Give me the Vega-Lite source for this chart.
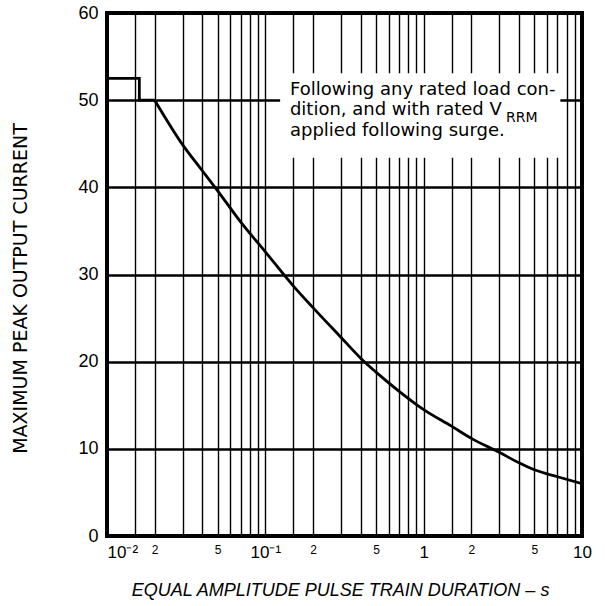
{
  "$schema": "https://vega.github.io/schema/vega-lite/v6.json",
  "width": 475,
  "height": 523,
  "autosize": "none",
  "padding": {"left": 107, "top": 13, "right": 23, "bottom": 70},
  "background": "white",
  "config": {
    "view": {"stroke": "black", "strokeWidth": 4},
    "font": "Liberation Sans"
  },
  "datasets": {
    "curve": [
      {"k": 1, "t": 0.01, "i": 52.5},
      {"k": 2, "t": 0.016, "i": 52.5},
      {"k": 3, "t": 0.016, "i": 50},
      {"k": 4, "t": 0.02, "i": 50},
      {"k": 5, "t": 0.03, "i": 44.9},
      {"k": 6, "t": 0.04, "i": 41.9},
      {"k": 7, "t": 0.05, "i": 39.6},
      {"k": 8, "t": 0.07, "i": 36.0},
      {"k": 9, "t": 0.1, "i": 32.6},
      {"k": 10, "t": 0.15, "i": 28.7},
      {"k": 11, "t": 0.2, "i": 26.2},
      {"k": 12, "t": 0.3, "i": 22.8},
      {"k": 13, "t": 0.4, "i": 20.4},
      {"k": 14, "t": 0.5, "i": 18.8},
      {"k": 15, "t": 0.7, "i": 16.6},
      {"k": 16, "t": 1, "i": 14.5},
      {"k": 17, "t": 1.5, "i": 12.6},
      {"k": 18, "t": 2, "i": 11.2},
      {"k": 19, "t": 3, "i": 9.6},
      {"k": 20, "t": 4, "i": 8.4},
      {"k": 21, "t": 5, "i": 7.6},
      {"k": 22, "t": 7, "i": 6.8},
      {"k": 23, "t": 10, "i": 6.0}
    ],
    "one": [{"a": 1}]
  },
  "layer": [
    {
      "data": {"name": "curve"},
      "transform": [{"filter": "datum.k <= 4"}],
      "mark": {"type": "line", "color": "black", "strokeWidth": 2.8, "clip": true},
      "encoding": {
        "x": {
          "field": "t",
          "type": "quantitative",
          "scale": {"type": "log", "domain": [0.01, 10]},
          "axis": {
            "values": [0.01, 0.015, 0.02, 0.03, 0.04, 0.05, 0.06, 0.07, 0.08, 0.09, 0.1, 0.15, 0.2, 0.3, 0.4, 0.5, 0.6, 0.7, 0.8, 0.9, 1, 1.5, 2, 3, 4, 5, 6, 7, 8, 9, 10],
            "labelExpr": "datum.value==0.01?'10⁻²':datum.value==0.1?'10⁻¹':datum.value==1?'1':datum.value==10?'10':(datum.value==0.02||datum.value==0.2||datum.value==2)?'2':(datum.value==0.05||datum.value==0.5||datum.value==5)?'5':''",
            "grid": true,
            "gridColor": "black",
            "gridWidth": 1.4,
            "gridOpacity": 1,
            "domain": false,
            "ticks": false,
            "labelPadding": 8,
            "labelFontSize": {"condition": {"test": "datum.value==0.02||datum.value==0.2||datum.value==2||datum.value==0.05||datum.value==0.5||datum.value==5", "value": 12}, "value": 17},
            "labelAlign": {"condition": {"test": "datum.value==0.01", "value": "left"}, "value": "center"},
            "labelColor": "black",
            "labelFlush": false,
            "labelOverlap": false,
            "labelBound": false,
            "title": "EQUAL AMPLITUDE PULSE TRAIN DURATION – s",
            "titleFont": "Liberation Sans",
            "titleFontStyle": "italic",
            "titleFontWeight": "normal",
            "titleFontSize": 18,
            "titleColor": "black",
            "titleX": 233,
            "titleY": 54,
            "titleAlign": "center",
            "titleBaseline": "middle"
          }
        },
        "y": {
          "field": "i",
          "type": "quantitative",
          "scale": {"domain": [0, 60]},
          "axis": {
            "values": [0, 10, 20, 30, 40, 50, 60],
            "grid": true,
            "gridColor": "black",
            "gridWidth": 2.5,
            "gridOpacity": 1,
            "domain": false,
            "ticks": false,
            "labelPadding": 9,
            "labelFontSize": 18,
            "labelColor": "black",
            "title": "MAXIMUM PEAK OUTPUT CURRENT",
            "titleFont": "DejaVu Sans",
            "titleFontSize": 19,
            "titleFontWeight": "normal",
            "titleColor": "black",
            "titleX": -87,
            "titleY": 275,
            "titleAngle": -90,
            "titleAlign": "center",
            "titleBaseline": "middle"
          }
        },
        "order": {"field": "k"}
      }
    },
    {
      "data": {"name": "curve"},
      "transform": [{"filter": "datum.k >= 4"}],
      "mark": {"type": "line", "color": "black", "strokeWidth": 2.8, "clip": true, "interpolate": "monotone"},
      "encoding": {
        "x": {"field": "t", "type": "quantitative"},
        "y": {"field": "i", "type": "quantitative"},
        "order": {"field": "k"}
      }
    },
    {
      "data": {"name": "one"},
      "mark": {"type": "rect", "color": "white"},
      "encoding": {
        "x": {"datum": 0.124},
        "x2": {"datum": 7.3},
        "y": {"datum": 53.1},
        "y2": {"datum": 43.4}
      }
    },
    {
      "data": {"name": "one"},
      "mark": {"type": "text", "align": "left", "baseline": "alphabetic", "font": "DejaVu Sans", "fontSize": 18, "lineHeight": 20.5, "color": "black"},
      "encoding": {
        "x": {"datum": 0.143},
        "y": {"datum": 50.6},
        "text": {"value": ["Following any rated load con-", "dition, and with rated V", "applied following surge."]}
      }
    },
    {
      "data": {"name": "one"},
      "mark": {"type": "text", "align": "left", "baseline": "alphabetic", "font": "DejaVu Sans", "fontSize": 14, "color": "black"},
      "encoding": {
        "x": {"datum": 3.31},
        "y": {"datum": 47.5},
        "text": {"value": "RRM"}
      }
    }
  ]
}
